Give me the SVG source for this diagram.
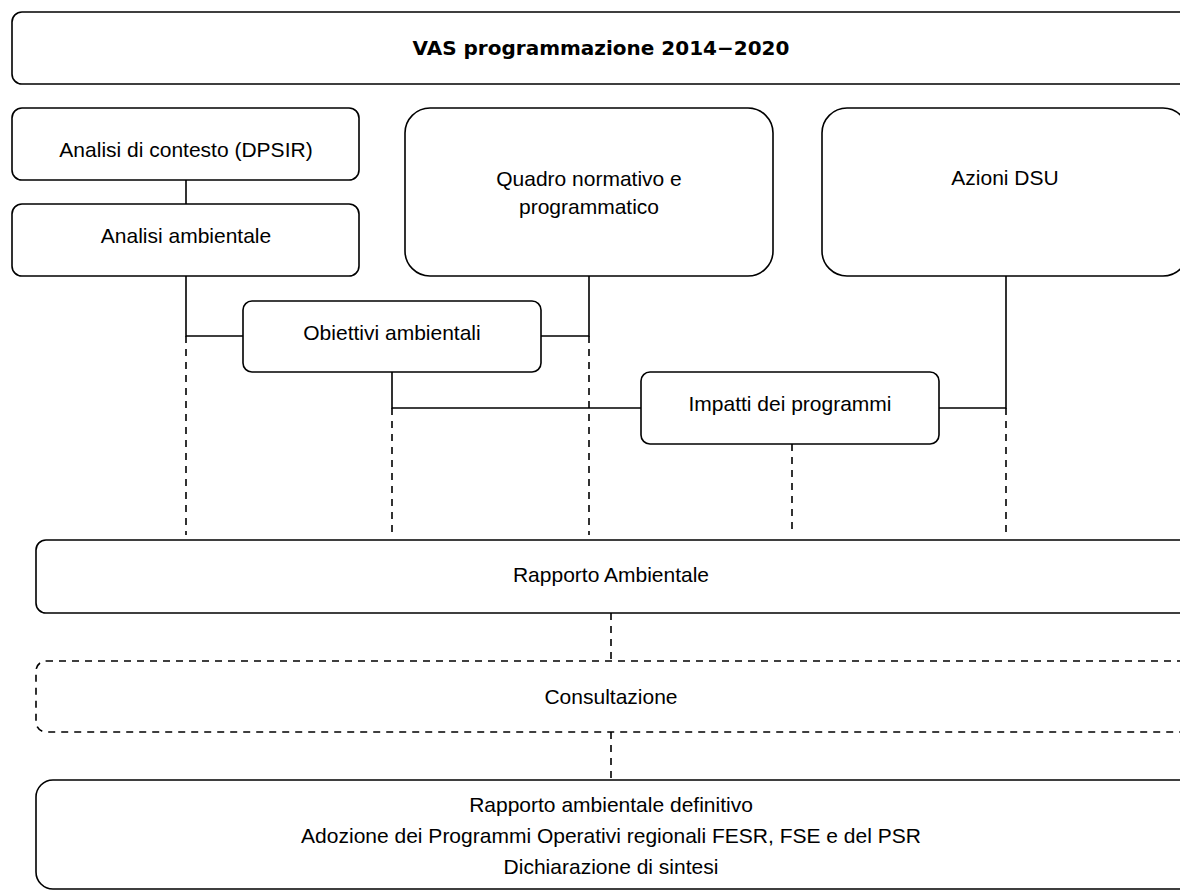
<svg xmlns="http://www.w3.org/2000/svg" width="1180" height="893" viewBox="0 0 1180 893">
<style>
.box{fill:#fff;stroke:#000;stroke-width:1.6}
.dbox{fill:#fff;stroke:#000;stroke-width:1.6;stroke-dasharray:7 6}
.t{font-family:"Liberation Sans",Arial,sans-serif;font-size:21px;fill:#000;text-anchor:middle}
.title{font-family:"DejaVu Sans",sans-serif;font-weight:bold;font-size:20px;fill:#000;text-anchor:middle}
.c{fill:none;stroke:#000;stroke-width:1.6}
.d{fill:none;stroke:#000;stroke-width:1.6;stroke-dasharray:7 6}
</style>
<rect width="1180" height="893" fill="#fff"/>
<g id="connectors">
<path class="c" d="M186 180V204"/>
<path class="c" d="M186 276V336H243"/>
<path class="c" d="M541 336H589V276"/>
<path class="c" d="M392 372V408H641"/>
<path class="c" d="M1006 276V408H939"/>
<path class="d" d="M186 336V535"/>
<path class="d" d="M392 408V535"/>
<path class="d" d="M589 336V535"/>
<path class="d" d="M792 444V535"/>
<path class="d" d="M1006 408V535"/>
<path class="d" d="M611 613V660"/>
<path class="d" d="M611 732V780"/>
</g>
<g id="n-title"><rect class="box" x="12" y="12" width="1185" height="72" rx="10"/><text class="title" x="601" y="55">VAS programmazione 2014−2020</text></g>
<g id="n-contesto"><rect class="box" x="12" y="108" width="347" height="72" rx="10"/><text class="t" x="186" y="157">Analisi di contesto (DPSIR)</text></g>
<g id="n-ambientale"><rect class="box" x="12" y="204" width="347" height="72" rx="10"/><text class="t" x="186" y="243">Analisi ambientale</text></g>
<g id="n-quadro"><rect class="box" x="405" y="108" width="368" height="168" rx="25"/><text class="t" x="589" y="186">Quadro normativo e</text><text class="t" x="589" y="214">programmatico</text></g>
<g id="n-azioni"><rect class="box" x="822" y="108" width="366" height="168" rx="25"/><text class="t" x="1005" y="185">Azioni DSU</text></g>
<g id="n-obiettivi"><rect class="box" x="243" y="301" width="298" height="71" rx="9"/><text class="t" x="392" y="340">Obiettivi ambientali</text></g>
<g id="n-impatti"><rect class="box" x="641" y="372" width="298" height="72" rx="9"/><text class="t" x="790" y="411">Impatti dei programmi</text></g>
<g id="n-rapporto"><rect class="box" x="36" y="540" width="1160" height="73" rx="10"/><text class="t" x="611" y="582">Rapporto Ambientale</text></g>
<g id="n-consultazione"><rect class="dbox" x="36" y="661" width="1160" height="71" rx="10"/><text class="t" x="611" y="704">Consultazione</text></g>
<g id="n-definitivo"><rect class="box" x="36" y="780" width="1160" height="109" rx="17"/><text class="t" x="611" y="812">Rapporto ambientale definitivo</text><text class="t" x="611" y="843">Adozione dei Programmi Operativi regionali FESR, FSE e del PSR</text><text class="t" x="611" y="874">Dichiarazione di sintesi</text></g>
</svg>
